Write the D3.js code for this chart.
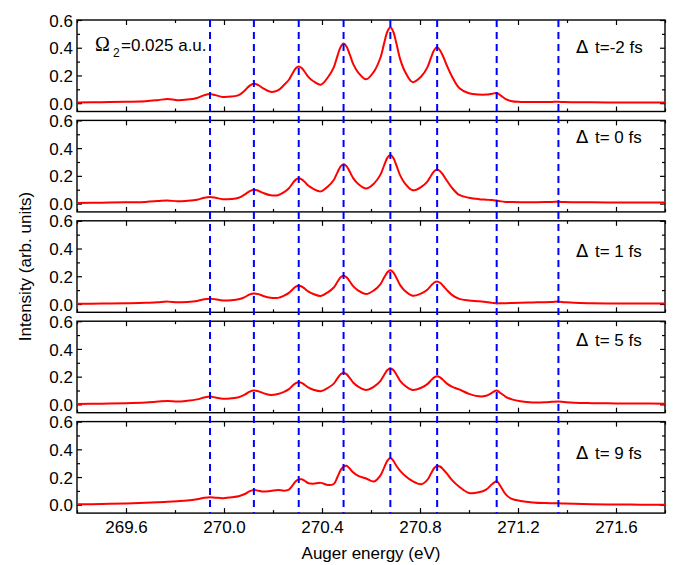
<!DOCTYPE html>
<html><head><meta charset="utf-8">
<script src="https://cdn.jsdelivr.net/npm/d3@7"></script>
<style>body{margin:0;background:#fff}svg{display:block}text{font-family:"Liberation Sans",Arial,sans-serif;fill:#000}</style>
</head><body><svg id="c" width="677" height="565"></svg>
<script>
const energies = [
  269.40,269.50,269.60,269.68,269.73,269.77,269.81,269.85,269.89,269.92,
  269.943,269.965,269.995,270.03,270.06,270.085,270.105,
  270.122,270.14,270.16,270.19,270.22,270.245,270.265,270.28,270.293,
  270.305,270.317,270.33,270.345,270.365,270.395,270.425,270.448,270.463,270.476,
  270.488,270.50,270.513,270.528,270.548,270.58,270.612,270.638,270.654,270.667,
  270.679,270.691,270.704,270.719,270.739,270.77,270.805,270.83,270.845,270.858,
  270.870,270.882,270.895,270.91,270.93,270.96,271.00,271.04,271.07,271.095,
  271.113,271.13,271.15,271.175,271.21,271.26,271.31,271.34,
  271.365,271.39,271.43,271.5,271.6,271.7,271.8];
const dtMinus2 = [
  0.005,0.007,0.010,0.014,0.022,0.030,0.022,0.026,0.038,0.058,
  0.066,0.058,0.045,0.048,0.058,0.092,0.127,
  0.140,0.130,0.107,0.082,0.092,0.131,0.169,0.216,0.252,
  0.265,0.254,0.225,0.188,0.158,0.133,0.189,0.258,0.341,0.406,
  0.430,0.409,0.353,0.280,0.221,0.172,0.228,0.326,0.435,0.517,
  0.547,0.515,0.428,0.318,0.227,0.152,0.192,0.258,0.328,0.384,
  0.404,0.380,0.335,0.270,0.195,0.110,0.072,0.062,0.062,0.068,
  0.073,0.055,0.030,0.014,0.009,0.008,0.008,0.009,
  0.010,0.008,0.007,0.006,0.005,0.005,0.005];
const dt0 = [
  0.004,0.006,0.009,0.012,0.018,0.023,0.016,0.020,0.028,0.042,
  0.047,0.042,0.031,0.033,0.042,0.066,0.090,
  0.100,0.093,0.077,0.060,0.060,0.082,0.111,0.146,0.173,
  0.183,0.175,0.155,0.128,0.106,0.088,0.125,0.170,0.225,0.268,
  0.284,0.270,0.231,0.182,0.141,0.108,0.144,0.207,0.277,0.331,
  0.350,0.330,0.274,0.203,0.144,0.096,0.120,0.159,0.201,0.234,
  0.246,0.234,0.205,0.165,0.115,0.062,0.042,0.032,0.028,0.025,
  0.022,0.016,0.012,0.011,0.010,0.010,0.011,0.012,
  0.013,0.011,0.010,0.009,0.008,0.008,0.008];
const dt1 = [
  0.002,0.003,0.005,0.008,0.013,0.017,0.012,0.015,0.022,0.034,
  0.038,0.034,0.025,0.027,0.034,0.050,0.069,
  0.076,0.071,0.058,0.045,0.044,0.060,0.080,0.105,0.125,
  0.132,0.126,0.110,0.089,0.072,0.058,0.086,0.119,0.160,0.192,
  0.204,0.193,0.164,0.127,0.097,0.072,0.098,0.142,0.192,0.229,
  0.243,0.228,0.188,0.136,0.094,0.059,0.076,0.103,0.132,0.155,
  0.163,0.153,0.130,0.100,0.066,0.037,0.025,0.020,0.014,0.008,
  0.004,0.005,0.006,0.007,0.009,0.011,0.013,0.015,
  0.017,0.013,0.008,0.005,0.003,0.003,0.003];
const dt5 = [
  0.003,0.005,0.008,0.013,0.020,0.025,0.020,0.026,0.036,0.050,
  0.056,0.050,0.040,0.044,0.052,0.070,0.092,
  0.100,0.095,0.081,0.068,0.075,0.090,0.110,0.135,0.153,
  0.160,0.155,0.140,0.121,0.106,0.095,0.120,0.150,0.188,0.217,
  0.228,0.218,0.191,0.156,0.128,0.104,0.128,0.168,0.214,0.248,
  0.261,0.248,0.214,0.170,0.134,0.104,0.120,0.146,0.173,0.195,
  0.203,0.195,0.175,0.150,0.128,0.108,0.076,0.058,0.062,0.085,
  0.100,0.080,0.055,0.036,0.022,0.014,0.015,0.019,
  0.021,0.017,0.012,0.009,0.007,0.006,0.005];
const dt9 = [
  0.003,0.006,0.010,0.015,0.019,0.022,0.026,0.031,0.040,0.050,
  0.054,0.051,0.048,0.055,0.062,0.078,0.098,
  0.107,0.102,0.095,0.100,0.107,0.102,0.110,0.140,0.170,
  0.183,0.184,0.172,0.155,0.152,0.158,0.142,0.150,0.200,0.250,
  0.275,0.282,0.262,0.232,0.208,0.190,0.168,0.210,0.270,0.318,
  0.337,0.318,0.280,0.245,0.210,0.170,0.148,0.180,0.225,0.265,
  0.280,0.276,0.255,0.225,0.180,0.130,0.085,0.090,0.110,0.150,
  0.170,0.130,0.075,0.042,0.028,0.017,0.012,0.011,
  0.011,0.009,0.007,0.004,0.002,0.001,0.001];
const panelSeries = [dtMinus2, dt0, dt1, dt5, dt9];
const panelLabels = ["t=-2 fs", "t= 0 fs", "t= 1 fs", "t= 5 fs", "t= 9 fs"];
const peakLines = [269.943, 270.122, 270.305, 270.488, 270.679, 270.870, 271.113, 271.365];
const xTicks = [269.6, 270.0, 270.4, 270.8, 271.2, 271.6];
const xMinor = [269.4, 269.8, 270.2, 270.6, 271.0, 271.4, 271.8];
const yTicks = [0.0, 0.2, 0.4, 0.6];
const yMinor = [0.1, 0.3, 0.5];

const svg = d3.select("#c");
const left = 77, right = 665, top0 = 20, step = 100.4, ph = 91.5;
const x = d3.scaleLinear().domain([269.4, 271.8]).range([left, right]);
const labelBase = [52.7, 143.3, 256.7, 346, 459];
const fmt = d3.format(".1f");
const SANS = '"Liberation Sans",Arial,sans-serif';

panelSeries.forEach((vals, i) => {
  const t = top0 + i * step;
  const y = d3.scaleLinear().domain([-0.06, 0.6]).range([t + ph, t]);
  const g = svg.append("g");
  const mk = (ax, tr) => g.append("g").attr("transform", tr).call(ax)
    .call(s => s.select(".domain").remove())
    .call(s => s.selectAll("line").attr("stroke", "#000").attr("stroke-width", 1.2));
  const bx = mk(d3.axisBottom(x).tickValues(xTicks).tickSize(-5).tickPadding(8).tickFormat(i === 4 ? fmt : ""), `translate(0,${t + ph})`);
  bx.selectAll("text").attr("font-size", 17).style("font-family", SANS).attr("fill", "#000");
  mk(d3.axisBottom(x).tickValues(xMinor).tickSize(-3).tickFormat(""), `translate(0,${t + ph})`);
  mk(d3.axisTop(x).tickValues(xTicks).tickSize(-5).tickFormat(""), `translate(0,${t})`);
  mk(d3.axisTop(x).tickValues(xMinor).tickSize(-3).tickFormat(""), `translate(0,${t})`);
  const ly = mk(d3.axisLeft(y).tickValues(yTicks).tickSize(-5).tickPadding(4).tickFormat(fmt), `translate(${left},0)`);
  ly.selectAll("text").attr("font-size", 17).style("font-family", SANS).attr("fill", "#000").attr("dy", "0.36em");
  mk(d3.axisLeft(y).tickValues(yMinor).tickSize(-3).tickFormat(""), `translate(${left},0)`);
  mk(d3.axisRight(y).tickValues(yTicks).tickSize(-5).tickFormat(""), `translate(${right},0)`);
  mk(d3.axisRight(y).tickValues(yMinor).tickSize(-3).tickFormat(""), `translate(${right},0)`);
  g.append("rect").attr("x", left).attr("y", t).attr("width", right - left).attr("height", ph)
    .attr("fill", "none").attr("stroke", "#000").attr("stroke-width", 1.4);
  const line = d3.line().x((d, k) => x(energies[k])).y(d => y(d)).curve(d3.curveCatmullRom.alpha(0.5));
  g.append("path").datum(vals).attr("d", line).attr("fill", "none").attr("stroke", "#ff0000").attr("stroke-width", 2);
  svg.append("text").attr("x", 576).attr("y", labelBase[i]).attr("font-size", 18)
    .style("font-family", '"DejaVu Sans",sans-serif').text("\u0394");
  svg.append("text").attr("x", 595).attr("y", labelBase[i]).attr("font-size", 17).text(panelLabels[i]);
});

svg.append("g").selectAll("line").data(peakLines).join("line")
  .attr("x1", d => x(d)).attr("x2", d => x(d)).attr("y1", top0).attr("y2", top0 + 4 * step + ph)
  .attr("stroke", "#0000ff").attr("stroke-width", 2).attr("stroke-dasharray", "7,5");

svg.append("text").attr("x", 95).attr("y", 50.7).attr("font-size", 20)
  .style("font-family", '"Liberation Serif","DejaVu Serif",serif').text("\u03A9");
svg.append("text").attr("x", 113).attr("y", 56.5).attr("font-size", 12).text("2");
svg.append("text").attr("x", 121).attr("y", 50.7).attr("font-size", 17).text("=0.025 a.u.");

svg.append("text").attr("x", (left + right) / 2).attr("y", 559).attr("text-anchor", "middle").attr("font-size", 17).text("Auger energy (eV)");
svg.append("text").attr("transform", `translate(31,${(top0 + top0 + 4 * step + ph) / 2}) rotate(-90)`)
  .attr("text-anchor", "middle").attr("font-size", 17).text("Intensity (arb. units)");
</script></body></html>
